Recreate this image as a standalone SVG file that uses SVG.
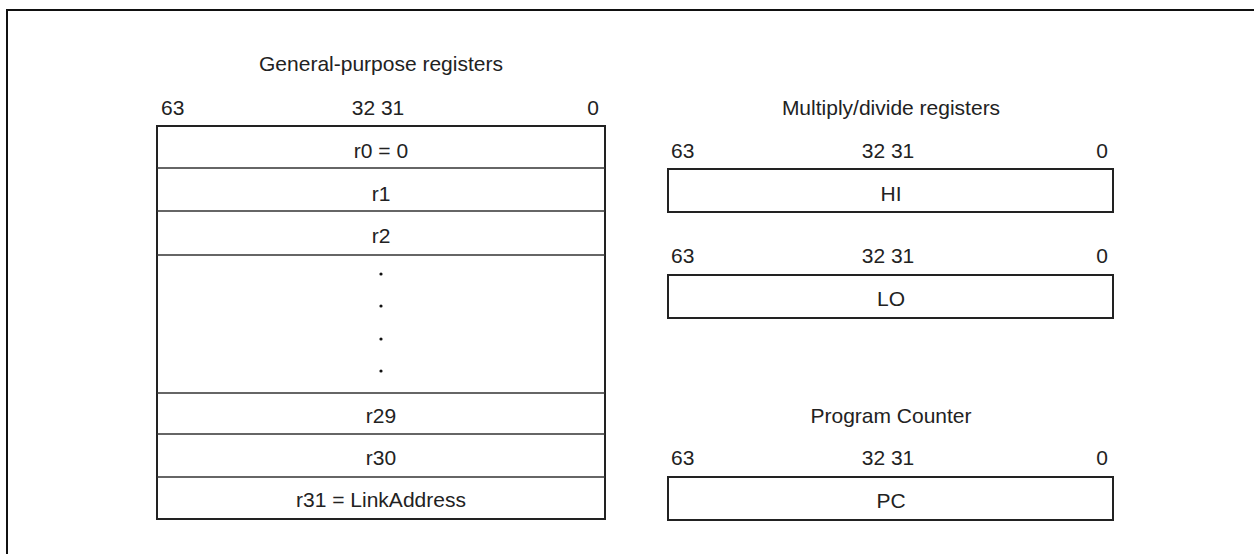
<svg xmlns="http://www.w3.org/2000/svg" width="1254" height="554" viewBox="0 0 1254 554">
<style>
text{font-family:"Liberation Sans",Arial,sans-serif;font-size:21px;fill:#222}
.c{text-anchor:middle}
.e{text-anchor:end}
.box{fill:#fff;stroke:#222;stroke-width:2}
.row{stroke:#333;stroke-width:1.5}
.frame{stroke:#111;stroke-width:2;fill:none}
</style>
<rect width="1254" height="554" fill="#fff"/>
<path class="frame" d="M7,555 V10 H1256"/>
<g id="gpr">
<text class="c" x="381" y="71">General-purpose registers</text>
<text x="161" y="115">63</text>
<text class="c" x="378" y="115">32 31</text>
<text class="e" x="599" y="115">0</text>
<rect class="box" x="157" y="126" width="448" height="393"/>
<g class="rows">
<line class="row" x1="157" y1="168" x2="605" y2="168"/>
<line class="row" x1="157" y1="211" x2="605" y2="211"/>
<line class="row" x1="157" y1="255" x2="605" y2="255"/>
<line class="row" x1="157" y1="393" x2="605" y2="393"/>
<line class="row" x1="157" y1="434" x2="605" y2="434"/>
<line class="row" x1="157" y1="477" x2="605" y2="477"/>
</g>
<text class="c" x="381" y="158">r0 = 0</text>
<text class="c" x="381" y="201">r1</text>
<text class="c" x="381" y="243">r2</text>
<circle cx="381" cy="274" r="1.6" fill="#111"/>
<circle cx="381" cy="306" r="1.6" fill="#111"/>
<circle cx="381" cy="339" r="1.6" fill="#111"/>
<circle cx="381" cy="371" r="1.6" fill="#111"/>
<text class="c" x="381" y="423">r29</text>
<text class="c" x="381" y="465">r30</text>
<text class="c" x="381" y="507">r31 = LinkAddress</text>
</g>
<g id="hi">
<text class="c" x="891" y="115">Multiply/divide registers</text>
<text x="671" y="158">63</text>
<text class="c" x="888" y="158">32 31</text>
<text class="e" x="1108" y="158">0</text>
<rect class="box" x="668" y="169" width="445" height="43"/>
<text class="c" x="891" y="201">HI</text>
</g>
<g id="lo">
<text x="671" y="263">63</text>
<text class="c" x="888" y="263">32 31</text>
<text class="e" x="1108" y="263">0</text>
<rect class="box" x="668" y="275" width="445" height="43"/>
<text class="c" x="891" y="306">LO</text>
</g>
<g id="pc">
<text class="c" x="891" y="423">Program Counter</text>
<text x="671" y="465">63</text>
<text class="c" x="888" y="465">32 31</text>
<text class="e" x="1108" y="465">0</text>
<rect class="box" x="668" y="477" width="445" height="43"/>
<text class="c" x="891" y="508">PC</text>
</g>
<g id="connectors"/>
</svg>
